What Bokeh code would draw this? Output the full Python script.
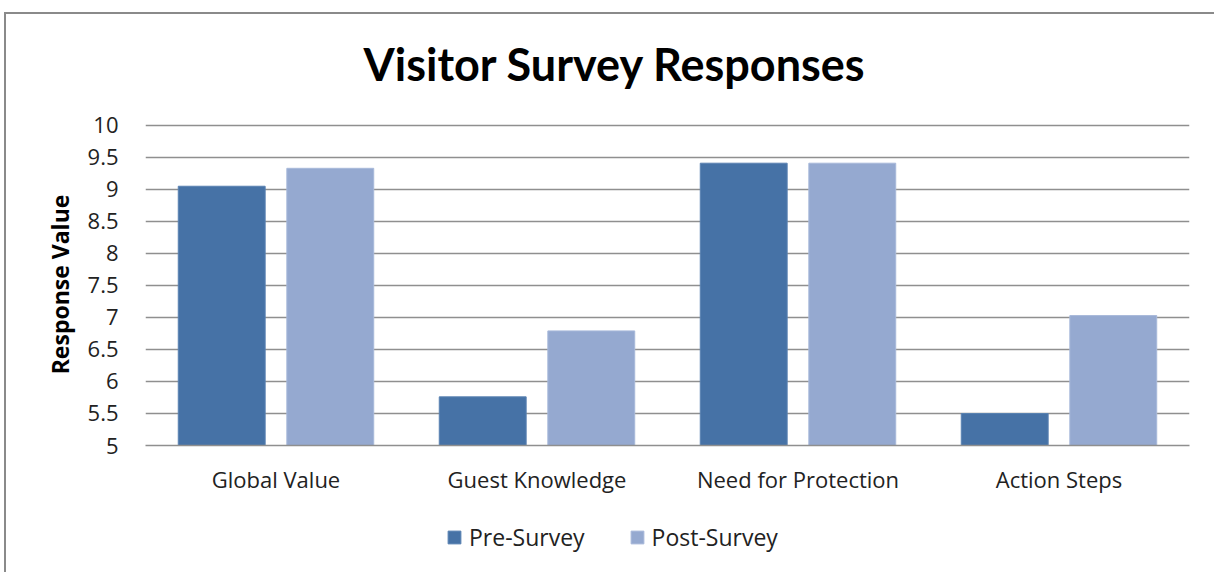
from bokeh.plotting import figure
from bokeh.layouts import column
from bokeh.models import ColumnDataSource, Legend, LegendItem, FixedTicker, Range1d
from bokeh.transform import dodge
from bokeh.embed import file_html
from bokeh.resources import INLINE

categories = ["Global Value", "Guest Knowledge", "Need for Protection", "Action Steps"]
pre_survey = [9.05, 5.76, 9.41, 5.50]
post_survey = [9.33, 6.79, 9.41, 7.03]
y_ticks = [5, 5.5, 6, 6.5, 7, 7.5, 8, 8.5, 9, 9.5, 10]
y_tick_labels = ["5", "5.5", "6", "6.5", "7", "7.5", "8", "8.5", "9", "9.5", "10"]
series_names = ["Pre-Survey", "Post-Survey"]
y_min, y_max = 5, 10

FONT = "Open Sans"
TITLE_FONT = "Lato"
PRE_COLOR = "#4672A6"
POST_COLOR = "#95A9D0"
PRE_LINE = "#5a82b2"
POST_LINE = "#a8b9da"

src = ColumnDataSource(dict(cat=categories, pre=pre_survey, post=post_survey))

p = figure(x_range=categories, y_range=Range1d(y_min, y_max + 0.03), width=1208, height=509,
           output_backend="svg", toolbar_location=None,
           min_border_left=139, min_border_right=25, min_border_top=0, min_border_bottom=65)
p.styles = {"margin-top": "-13px"}
p.outline_line_color = None
p.background_fill_color = "white"
p.border_fill_color = "white"

p.vbar(x=dodge("cat", -0.208, range=p.x_range), top="pre", bottom=y_min, width=0.333,
       source=src, fill_color=PRE_COLOR, line_color=PRE_LINE, line_width=1)
p.vbar(x=dodge("cat", 0.208, range=p.x_range), top="post", bottom=y_min, width=0.333,
       source=src, fill_color=POST_COLOR, line_color=POST_LINE, line_width=1)

# grid
p.xgrid.grid_line_color = None
p.ygrid.grid_line_color = "#8f8f8f"
p.ygrid.grid_line_width = 1.5
p.ygrid.level = "underlay"

# y axis
p.yaxis.ticker = FixedTicker(ticks=y_ticks)
p.yaxis.major_label_overrides = {t: l for t, l in zip(y_ticks, y_tick_labels)}
p.yaxis.axis_line_color = None
p.yaxis.major_tick_line_color = None
p.yaxis.minor_tick_line_color = None
p.yaxis.major_tick_out = 0
p.yaxis.major_tick_in = 0
p.yaxis.major_label_standoff = 27
p.yaxis.major_label_text_font = FONT
p.yaxis.major_label_text_font_size = "22px"
p.yaxis.major_label_text_color = "#222222"
p.yaxis.axis_label = "Response Value"
p.yaxis.axis_label_text_font = FONT
p.yaxis.axis_label_text_font_size = "23px"
p.yaxis.axis_label_text_font_style = "bold"
p.yaxis.axis_label_text_color = "black"
p.yaxis.axis_label_standoff = 9

# x axis
p.xaxis.axis_line_color = "#8f8f8f"
p.xaxis.axis_line_width = 1.5
p.xaxis.major_tick_line_color = None
p.xaxis.minor_tick_line_color = None
p.xaxis.major_tick_out = 0
p.xaxis.major_tick_in = 0
p.xaxis.major_label_standoff = 18
p.xaxis.major_label_text_font = FONT
p.xaxis.major_label_text_font_size = "22px"
p.xaxis.major_label_text_color = "#222222"

# title
p.title.text = "Visitor Survey Responses"
p.title.align = "left"
p.title.offset = 218
p.title.standoff = 66
p.title.text_font = TITLE_FONT
p.title.text_font_size = "45px"
p.title.text_font_style = "bold"
p.title.text_color = "black"

# legend strip below the chart
lg = figure(width=1208, height=62, output_backend="svg", toolbar_location=None,
            x_axis_type=None, y_axis_type=None, x_range=(0, 1), y_range=(0, 1),
            min_border_left=0, min_border_right=0, min_border_top=0, min_border_bottom=0)
lg.outline_line_color = None
lg.grid.grid_line_color = None
lg.border_fill_color = "white"
placeholder = ColumnDataSource(dict(x=[float("nan")], top=[float("nan")]))
d_pre = lg.vbar(x="x", top="top", width=0.1, source=placeholder, fill_color=PRE_COLOR, line_color=PRE_LINE)
d_post = lg.vbar(x="x", top="top", width=0.1, source=placeholder, fill_color=POST_COLOR, line_color=POST_LINE)
legend = Legend(items=[LegendItem(label=series_names[0], renderers=[d_pre]),
                       LegendItem(label=series_names[1], renderers=[d_post])],
                orientation="horizontal", location=(301, 19),
                label_text_font=FONT, label_text_font_size="23px", label_text_color="#222222",
                glyph_width=16, glyph_height=16, label_standoff=7, spacing=44,
                padding=0, margin=0, border_line_color=None, background_fill_alpha=0)
lg.add_layout(legend, "center")

layout = column(p, lg, spacing=0)
layout.styles = {"margin-left": "4px", "margin-top": "12px", "overflow": "hidden",
                 "border-left": "2px solid #8a8a8a", "border-top": "2px solid #8a8a8a"}

open("out.html", "w").write(file_html(layout, INLINE))
